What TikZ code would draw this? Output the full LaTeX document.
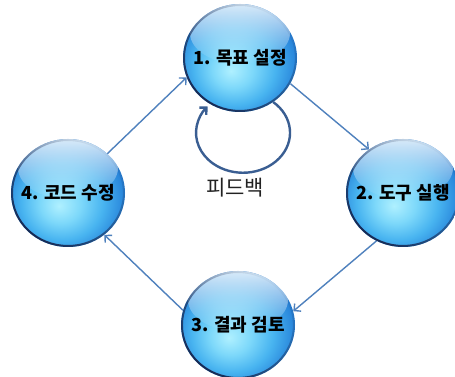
\documentclass[tikz,border=0pt]{standalone}
\usepackage{fontspec}
\newfontfamily\kr{Noto Sans CJK KR}
\usetikzlibrary{shapes.geometric,arrows.meta,fadings}

% colours of the glass balls and connectors
\definecolor{gbA}{RGB}{175,240,255}
\definecolor{gbB}{RGB}{125,216,250}
\definecolor{gbC}{RGB}{72,180,240}
\definecolor{gbD}{RGB}{42,136,220}
\definecolor{gbE}{RGB}{30,100,188}
\definecolor{rimdark}{RGB}{22,38,80}
\definecolor{flowblue}{RGB}{79,129,189}
\definecolor{loopblue}{RGB}{58,94,146}
\definecolor{labelgray}{RGB}{34,34,34}

% body of a ball: bright core a little below and left of the centre
\pgfdeclareradialshading{glassball}{\pgfpoint{-4bp}{-6bp}}{%
  color(0bp)=(gbA); color(9bp)=(gbB); color(18bp)=(gbC);
  color(26bp)=(gbD); color(32bp)=(gbE); color(50bp)=(gbE)}

% soft glare on the upper half
\tikzfading[name=glare, top color=transparent!8, bottom color=transparent!100]

\tikzset{
  ball/.style={
    ellipse, minimum width=114pt, minimum height=108pt, inner sep=0pt,
    shading=glassball,
    path picture={
      \coordinate (pc) at (path picture bounding box.center);
      \fill[white!92!gbC, path fading=glare]
        ([yshift=25pt]pc) ellipse [x radius=50pt, y radius=31pt];
      \draw[rimdark, line width=4pt, path fading=north, fading angle=-40]
        (pc) ellipse [x radius=57pt, y radius=54pt];
    }},
  balltext/.style={font=\kr\bfseries\fontsize{18}{21}\selectfont,
    text=black, inner sep=0pt},
  flow/.style={flowblue, line width=1.4pt,
    -{Straight Barb[length=5pt, width=10pt]}},
  loopline/.style={loopblue, line width=2.4pt,
    -{Straight Barb[length=5pt, width=10pt]}},
}

\begin{document}
\begin{tikzpicture}[x=1pt, y=1pt]
  \useasboundingbox (0,0) rectangle (455,377);
  \fill[white] (0,0) rectangle (455,377);

  % the four stages of the cycle
  \node[ball] (n1) at (240,319) {};
  \node[ball] (n2) at (403,184) {};
  \node[ball] (n3) at (238,52)  {};
  \node[ball] (n4) at (68,184)  {};
  \node[balltext] (t1) at (n1) {1. 목표 설정};
  \node[balltext] (t2) at (n2) {2. 도구 실행};
  \node[balltext] (t3) at (n3) {3. 결과 검토};
  \node[balltext] (t4) at (n4) {4. 코드 수정};

  % cycle connectors
  \draw[flow] (n4.45)  -- (n1.200);
  \draw[flow] (n1.333) -- (n2.128);
  \draw[flow] (n2.241) -- (n3.14);
  \draw[flow] (n3.165) -- (n4.311);

  % feedback loop under the first stage
  \draw[loopline] (n1.307)
    arc [start angle=50, end angle=-221, x radius=47, y radius=40];
  \node[font=\kr\fontsize{21}{24}\selectfont, text=labelgray] (fb)
    at (235,189) {피드백};
\end{tikzpicture}
\end{document}
